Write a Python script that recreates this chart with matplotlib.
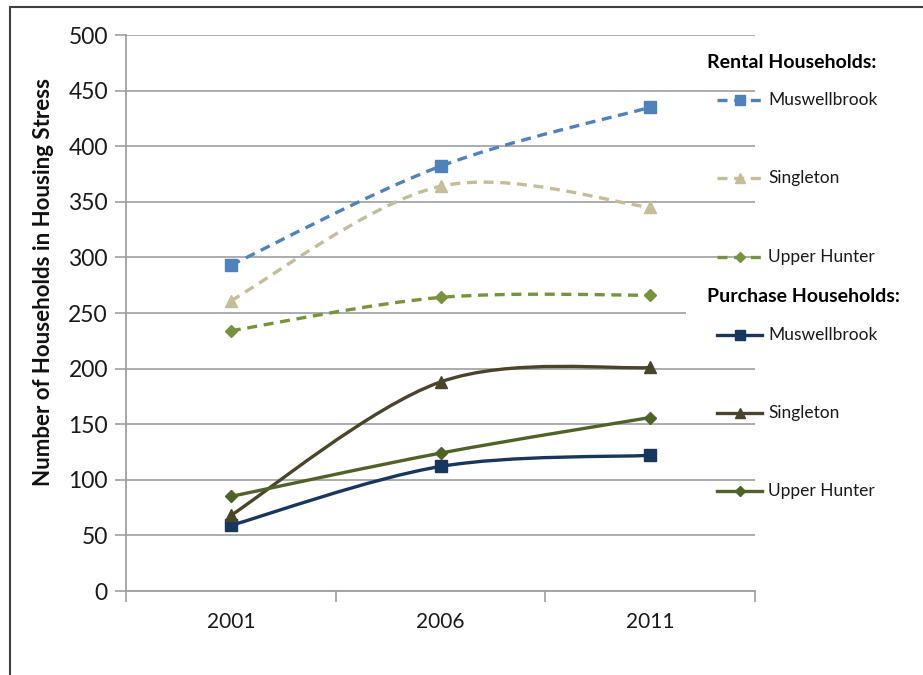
import matplotlib
matplotlib.use("Agg")
import matplotlib.pyplot as plt
from matplotlib.path import Path
from matplotlib.patches import PathPatch, Rectangle
from matplotlib.lines import Line2D

plt.rcParams['font.family'] = ['Lato', 'DejaVu Sans']

# data
years = ['2001', '2006', '2011']
rental_muswellbrook = [293, 382, 435]
rental_singleton = [261, 364, 345]
rental_upper_hunter = [234, 264, 266]
purchase_muswellbrook = [59, 112, 122]
purchase_singleton = [68, 188, 201]
purchase_upper_hunter = [85, 124, 156]

series = [
    ('Muswellbrook', rental_muswellbrook, '#4F81BD', 's', 'dashed', 8),
    ('Singleton', rental_singleton, '#C4BD97', '^', 'dashed', 8),
    ('Upper Hunter', rental_upper_hunter, '#77933C', 'D', 'dashed', 6),
    ('Muswellbrook', purchase_muswellbrook, '#17375E', 's', 'solid', 9),
    ('Singleton', purchase_singleton, '#4A452A', '^', 'solid', 9),
    ('Upper Hunter', purchase_upper_hunter, '#4F6228', 'D', 'solid', 6),
]


def smooth_path(xs, ys):
    # Excel-style smoothed line: cubic Bezier segments with 1/6 tangents
    pts = list(zip(xs, ys))
    verts = [pts[0]]
    codes = [Path.MOVETO]
    n = len(pts)
    for i in range(n - 1):
        p0 = pts[max(i - 1, 0)]
        p1 = pts[i]
        p2 = pts[i + 1]
        p3 = pts[min(i + 2, n - 1)]
        c1 = (p1[0] + (p2[0] - p0[0]) / 6, p1[1] + (p2[1] - p0[1]) / 6)
        c2 = (p2[0] - (p3[0] - p1[0]) / 6, p2[1] - (p3[1] - p1[1]) / 6)
        verts += [c1, c2, p2]
        codes += [Path.CURVE4] * 3
    return Path(verts, codes)


W, H = 923, 675
fig = plt.figure(figsize=(W / 100, H / 100), dpi=100)
ax = fig.add_axes([126 / W, 1 - 591 / H, (755 - 126) / W, (591 - 35) / H])

x = list(range(len(years)))
for name, vals, color, mk, ls, ms in series:
    patch = PathPatch(smooth_path(x, vals), fill=False, edgecolor=color,
                      linewidth=2.4, linestyle=(0, (3, 2)) if ls == 'dashed' else '-',
                      capstyle='butt', zorder=3)
    ax.add_patch(patch)
    ax.plot(x, vals, linestyle='none', marker=mk, markersize=ms,
            color=color, zorder=4)

ax.set_xlim(-0.5, 2.5)
ax.set_ylim(0, 500)
ax.set_yticks(range(0, 501, 50))
ax.set_xticks(x)
ax.set_xticklabels(years)
ax.set_xticks([-0.5, 0.5, 1.5, 2.5], minor=True)
ax.tick_params(axis='x', which='major', length=0, pad=15, labelsize=15,
               labelcolor='#1a1a1a')
ax.tick_params(axis='x', which='minor', length=8, color='#a0a0a0', width=1.2)
ax.tick_params(axis='y', length=8, color='#a0a0a0', width=1.2, pad=5,
               labelsize=16.5, labelcolor='#1a1a1a')
ax.grid(axis='y', color='#a6a6a6', linewidth=1.3)
ax.set_axisbelow(True)
for s in ['top', 'right']:
    ax.spines[s].set_visible(False)
for s in ['left', 'bottom']:
    ax.spines[s].set_color('#a0a0a0')
    ax.spines[s].set_linewidth(1.3)

fig.text(44 / W, 1 - 282 / H, 'Number of Households in Housing Stress',
         rotation=90, ha='center', va='center', fontsize=16,
         fontweight='bold', color='#111111')

# legend drawn by hand, Excel style
fig.text(707 / W, 1 - 62 / H, 'Rental Households:', fontsize=14,
         fontweight='bold', va='center', ha='left', color='#000000')
fig.text(707 / W, 1 - 296 / H, 'Purchase Households:', fontsize=14,
         fontweight='bold', va='center', ha='left', color='#000000',
         bbox=dict(boxstyle='square,pad=1.1', facecolor='white', edgecolor='none'))
rows = [100, 178, 257, 335, 413, 491]
for (name, vals, color, mk, ls, ms), ry in zip(series, rows):
    yy = 1 - ry / H
    fig.add_artist(Line2D([717 / W, 762 / W], [yy, yy], transform=fig.transFigure,
                          color=color, linewidth=2.4,
                          linestyle=(0, (3, 2)) if ls == 'dashed' else '-'))
    fig.add_artist(Line2D([740 / W], [yy], transform=fig.transFigure,
                          color=color, marker=mk, markersize=ms * 0.85,
                          linestyle='none'))
    fig.text(768 / W, yy, name, fontsize=12.5, va='center', ha='left',
             color='#1a1a1a')

# frame around the chart
fig.add_artist(Rectangle((10 / W, -0.05), 1.0, 1 - 7 / H + 0.05,
                         transform=fig.transFigure, fill=False,
                         edgecolor='#404040', linewidth=1.5))

fig.savefig('out.png', dpi=100)
